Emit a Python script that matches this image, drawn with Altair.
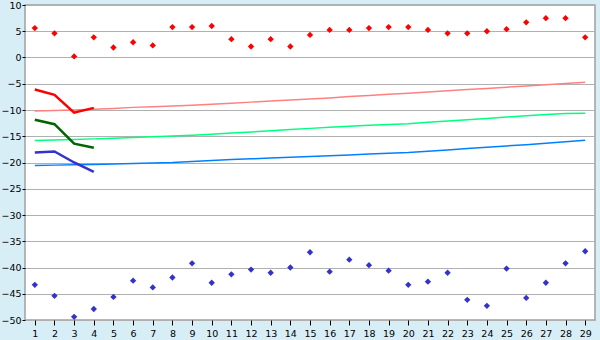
import altair as alt
import pandas as pd

x_vals = list(range(1, 30))

red_points = [5.6, 4.6, 0.2, 3.85, 1.9, 2.9, 2.3, 5.8, 5.8, 6.0,
              3.5, 2.1, 3.5, 2.1, 4.3, 5.25, 5.25, 5.6, 5.8, 5.8,
              5.25, 4.6, 4.6, 5.0, 5.4, 6.7, 7.5, 7.5, 3.85]
blue_points = [-43.3, -45.4, -49.4, -47.9, -45.6, -42.5, -43.8, -41.9, -39.2, -42.9,
               -41.3, -40.4, -41.0, -40.0, -37.1, -40.8, -38.5, -39.55, -40.6, -43.3,
               -42.7, -41.0, -46.15, -47.3, -40.2, -45.8, -42.9, -39.2, -36.9]

thin_red = [-10.2, -10.1, -10.0, -9.85, -9.7, -9.5, -9.4, -9.25, -9.1, -8.9,
            -8.7, -8.5, -8.3, -8.1, -7.9, -7.7, -7.45, -7.25, -7.0, -6.8,
            -6.55, -6.35, -6.1, -5.9, -5.65, -5.45, -5.2, -4.95, -4.7]
thin_green = [-15.8, -15.7, -15.6, -15.5, -15.4, -15.25, -15.1, -14.95, -14.8, -14.6,
              -14.4, -14.2, -13.95, -13.7, -13.5, -13.3, -13.1, -12.9, -12.75, -12.6,
              -12.35, -12.1, -11.85, -11.6, -11.35, -11.1, -10.85, -10.65, -10.6]
thin_blue = [-20.57, -20.5, -20.45, -20.4, -20.3, -20.2, -20.1, -20.0, -19.8, -19.6,
             -19.45, -19.3, -19.15, -19.0, -18.85, -18.7, -18.55, -18.4, -18.25, -18.1,
             -17.85, -17.6, -17.35, -17.1, -16.85, -16.6, -16.35, -16.05, -15.76]

thick_x = [1, 2, 3, 4]
thick_red = [-6.1, -7.1, -10.5, -9.6]
thick_green = [-11.85, -12.7, -16.4, -17.2]
thick_blue = [-18.1, -17.9, -20.0, -21.8]

def frame(xs, ys, name):
    return pd.DataFrame({"x": xs, "y": ys, "s": name})

thin_df = pd.concat([frame(x_vals, thin_red, "tr"), frame(x_vals, thin_green, "tg"),
                     frame(x_vals, thin_blue, "tb")])
thick_df = pd.concat([frame(thick_x, thick_red, "kr"), frame(thick_x, thick_green, "kg"),
                      frame(thick_x, thick_blue, "kb")])
pts_df = pd.concat([frame(x_vals, red_points, "pr"), frame(x_vals, blue_points, "pb")])

color_scale = alt.Scale(
    domain=["tr", "tg", "tb", "kr", "kg", "kb", "pr", "pb"],
    range=["#ff8080", "#00ff80", "#0080ff", "#ff0000", "#006400", "#3333cc", "#ff0000", "#3333cc"],
)

xenc = alt.X("x:Q", scale=alt.Scale(domain=[0.5, 29.5], nice=False, zero=False),
             axis=alt.Axis(values=x_vals, title=None, grid=False, domain=False,
                           tickSize=5, tickColor="#000000", labelPadding=3))
yenc = alt.Y("y:Q", scale=alt.Scale(domain=[-50, 10], nice=False, zero=False),
             axis=alt.Axis(values=list(range(-50, 11, 5)), title=None, grid=True,
                           gridColor="#b0b0b0", domain=False, tickSize=3,
                           tickColor="#000000", labelPadding=1))
cenc = alt.Color("s:N", scale=color_scale, legend=None)

thin = alt.Chart(thin_df).mark_line(strokeWidth=1.5).encode(
    x=xenc, y=yenc, color=cenc, detail="s:N")
thick = alt.Chart(thick_df).mark_line(strokeWidth=2.5).encode(
    x=xenc, y=yenc, color=cenc, detail="s:N")
pts = alt.Chart(pts_df).mark_point(shape="diamond", filled=True, size=40, opacity=1).encode(
    x=xenc, y=yenc, color=cenc)

chart = alt.layer(thin, thick, pts).properties(
    width=570, height=315,
    autosize=alt.AutoSizeParams(type="none"),
    padding={"left": 25, "top": 5, "right": 5, "bottom": 20},
    background="#d8eef6",
).configure_view(
    fill="#ffffff", stroke="#a0a0a0", strokeWidth=1.5
).configure_axis(
    labelFont="DejaVu Sans", labelFontSize=9.5, labelColor="#000000"
)

chart.save("out.html", embed_options={"renderer": "svg", "actions": False})
